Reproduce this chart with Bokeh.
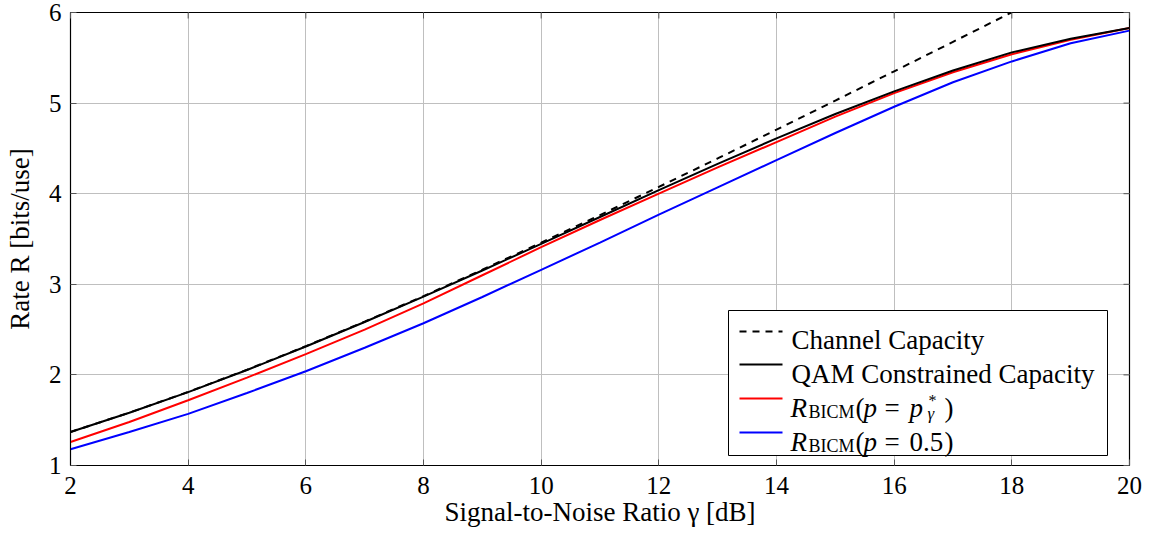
from bokeh.plotting import figure
from bokeh.models import Range1d, FixedTicker, BoxAnnotation, Label, ColumnDataSource
from bokeh.embed import file_html
from bokeh.resources import INLINE

# ---------------- data ----------------
snr_db = [2, 3, 4, 5, 6, 7, 8, 9, 10, 11, 12, 13, 14, 15, 16, 17, 18, 19, 20]
capacity_snr_db = [2, 3, 4, 5, 6, 7, 8, 9, 10, 11, 12, 13, 14, 15, 16, 17, 18]
channel_capacity = [1.370, 1.583, 1.812, 2.057, 2.317, 2.588, 2.870, 3.161, 3.459,
                    3.764, 4.075, 4.389, 4.707, 5.028, 5.351, 5.676, 6.002]
qam_capacity = [1.370, 1.582, 1.810, 2.054, 2.313, 2.584, 2.864, 3.152, 3.446, 3.743,
                4.040, 4.330, 4.610, 4.880, 5.130, 5.360, 5.560, 5.710, 5.830]
bicm_opt = [1.26, 1.48, 1.72, 1.97, 2.23, 2.50, 2.79, 3.10, 3.41, 3.71,
            4.00, 4.29, 4.57, 4.85, 5.11, 5.34, 5.54, 5.70, 5.83]
bicm_half = [1.18, 1.37, 1.57, 1.80, 2.04, 2.30, 2.57, 2.86, 3.16, 3.46,
             3.77, 4.07, 4.37, 4.67, 4.96, 5.23, 5.46, 5.66, 5.80]
x_ticks = [2, 4, 6, 8, 10, 12, 14, 16, 18, 20]
y_ticks = [1, 2, 3, 4, 5, 6]

FONT = "'Liberation Serif', 'DejaVu Serif', serif"
X0, X1, Y0, Y1 = 2, 20, 1, 6

p = figure(width=1142, height=534, output_backend="svg", toolbar_location=None,
           x_range=Range1d(X0, X1), y_range=Range1d(Y0, Y1),
           min_border_left=70, min_border_right=13, min_border_top=12, min_border_bottom=69)
p.outline_line_color = "black"
p.outline_line_width = 1.2
p.background_fill_color = "white"
p.border_fill_color = "white"

for ax in (p.xaxis[0], p.yaxis[0]):
    ax.major_tick_in = 6
    ax.major_tick_out = 0
    ax.minor_tick_line_color = None
    ax.axis_line_color = "black"
    ax.major_tick_line_color = "#555555"
    ax.major_label_text_font = FONT
    ax.major_label_text_font_size = "25px"
    ax.major_label_text_color = "black"
    ax.axis_label_text_font = FONT
    ax.axis_label_text_font_size = "27px"
    ax.axis_label_text_font_style = "normal"
    ax.axis_label_text_color = "black"

p.xaxis.ticker = FixedTicker(ticks=x_ticks)
p.yaxis.ticker = FixedTicker(ticks=y_ticks)
p.xaxis.axis_label = "Signal-to-Noise Ratio γ [dB]"
p.yaxis.axis_label = "Rate R [bits/use]"
p.xaxis.major_label_standoff = 11
p.yaxis.major_label_standoff = 9
p.xaxis.axis_label_standoff = 0
p.yaxis.axis_label_standoff = 11

p.xgrid.ticker = FixedTicker(ticks=x_ticks)
p.ygrid.ticker = FixedTicker(ticks=y_ticks)
p.grid.grid_line_color = "#bfbfbf"
p.grid.grid_line_width = 1

src = ColumnDataSource(dict(x=snr_db, qam=qam_capacity, opt=bicm_opt, half=bicm_half))
cap_src = ColumnDataSource(dict(x=capacity_snr_db, y=channel_capacity))

p.line("x", "half", source=src, line_color="#0000ff", line_width=2)
p.line("x", "opt", source=src, line_color="#ff0000", line_width=2)
p.line("x", "qam", source=src, line_color="black", line_width=2)
p.line("x", "y", source=cap_src, line_color="black", line_width=2, line_dash="7 6")

# inward tick marks on the top and right frame edges, at the tick values
TICK_X = 6 * (X1 - X0) / 1059
TICK_Y = 6 * (Y1 - Y0) / 453
p.segment(x0=x_ticks, y0=[Y1] * len(x_ticks), x1=x_ticks, y1=[Y1 - TICK_Y] * len(x_ticks),
          line_color="#555555", line_width=1, level="overlay")
p.segment(x0=[X1] * len(y_ticks), y0=y_ticks, x1=[X1 - TICK_X] * len(y_ticks), y1=y_ticks,
          line_color="#555555", line_width=1, level="overlay")

# ---------------- manual legend (layout in reference page pixels) ----------------
FL, FR, FT, FB = 72, 1131, 14, 467


def dx(px):
    return X0 + (px - FL) * (X1 - X0) / (FR - FL)


def dy(py):
    return Y0 + (FB - py) * (Y1 - Y0) / (FB - FT)


p.add_layout(BoxAnnotation(left=dx(730), right=dx(1109), top=dy(312), bottom=dy(457),
                           fill_color="white", fill_alpha=1.0,
                           line_color="black", line_width=1, line_alpha=1.0))

swatch_y = [333, 366, 400, 434]
swatch_col = ["black", "black", "#ff0000", "#0000ff"]
swatch_dash = ["7 6", "solid", "solid", "solid"]
for yy, c, d in zip(swatch_y, swatch_col, swatch_dash):
    p.segment(x0=[dx(741)], y0=[dy(yy)], x1=[dx(784)], y1=[dy(yy)],
              line_color=c, line_width=2, line_dash=d, level="overlay")


def txt(px, py, s, size=27, style="normal"):
    p.add_layout(Label(x=dx(px), y=dy(py), text=s, text_font=FONT,
                       text_font_size=f"{size}px", text_font_style=style,
                       text_color="black", text_align="left",
                       text_baseline="alphabetic"))


txt(793, 341, "Channel Capacity")
txt(793, 375, "QAM Constrained Capacity")
# R_BICM(p = p*_gamma)
txt(792, 409, "R", style="italic")
txt(810, 413, "BICM", size=18)
txt(857, 409, "(")
txt(865, 409, "p", style="italic")
txt(886, 409, "=")
txt(911, 409, "p", style="italic")
txt(930, 402, "*", size=16)
txt(929, 415, "γ", size=17, style="italic")
txt(946, 409, ")")
# R_BICM(p = 0.5)
txt(792, 443, "R", style="italic")
txt(810, 447, "BICM", size=18)
txt(857, 443, "(")
txt(865, 443, "p", style="italic")
txt(886, 443, "=")
txt(911, 443, "0.5")
txt(946, 443, ")")

open("out.html", "w").write(file_html(p, INLINE))
